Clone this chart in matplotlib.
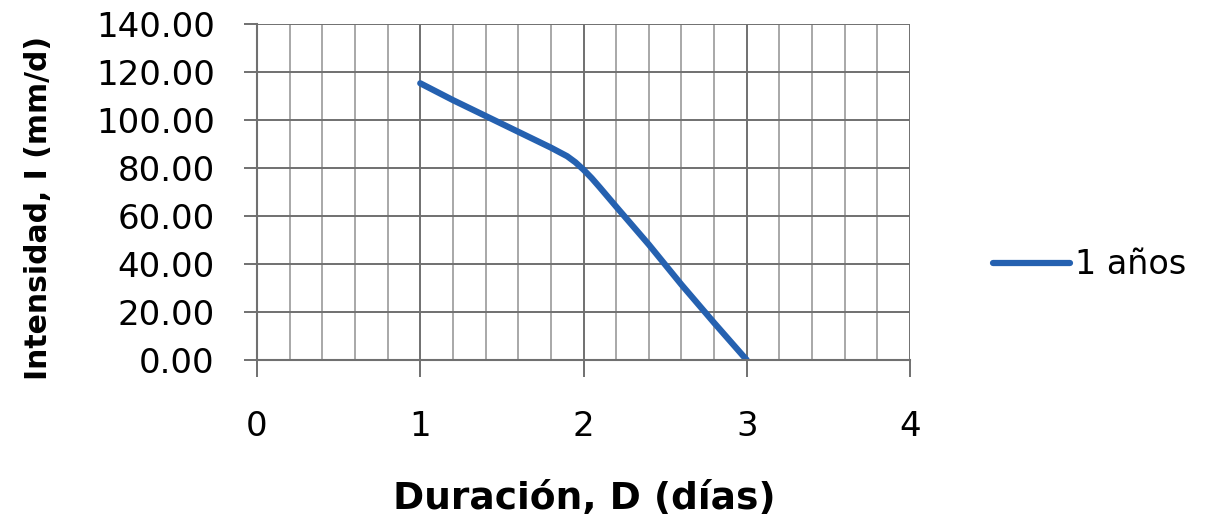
import numpy as np
import matplotlib
matplotlib.use("Agg")
import matplotlib.pyplot as plt
from matplotlib.ticker import MultipleLocator, FormatStrFormatter

# valores
duracion = [1.0, 1.2, 1.4, 1.6, 1.8, 1.9, 1.95, 2.0, 2.05, 2.1, 2.2, 2.4, 2.6, 2.8, 3.0]
intensidad = [115.3, 108.3, 101.7, 95.1, 88.5, 84.9, 82.4, 79.3, 75.8, 71.9, 63.9, 48.1, 31.4, 15.5, 0.0]
serie = "1 años"

plt.rcParams['font.family'] = ['DejaVu Sans']

fig = plt.figure(figsize=(12.14, 5.2), dpi=100)
ax = fig.add_axes([257/1214, 1-360/520, (910-257)/1214, (360-24)/520])

ax.plot(duracion, intensidad, color="#2561b0", lw=4.5, solid_capstyle="round",
        solid_joinstyle="round", label=serie)

ax.set_xlim(0, 4)
ax.set_ylim(0, 140)
ax.xaxis.set_major_locator(MultipleLocator(1))
ax.xaxis.set_minor_locator(MultipleLocator(0.2))
ax.yaxis.set_major_locator(MultipleLocator(20))
ax.yaxis.set_major_formatter(FormatStrFormatter("%.2f"))

ax.grid(which="major", color="#707070", lw=1.4)
ax.grid(which="minor", axis="x", color="#999999", lw=1.2)
ax.set_axisbelow(True)
for s in ["top", "right"]:
    ax.spines[s].set_visible(False)
for s in ["left", "bottom"]:
    ax.spines[s].set_color("#707070")
    ax.spines[s].set_linewidth(1.5)

ax.tick_params(axis="y", which="major", length=9.5, width=1.4, color="#707070", labelsize=24.5, pad=21)
ax.tick_params(axis="x", which="major", length=12, width=1.4, color="#707070", labelsize=24.5, pad=24)
ax.tick_params(which="minor", length=0)

ax.set_xlabel("Duración, D (días)", fontsize=27, fontweight="bold")
ax.set_ylabel("Intensidad, I (mm/d)", fontsize=21.5, fontweight="bold")
ax.xaxis.set_label_coords(0.5008, -0.36)
ax.yaxis.set_label_coords(-0.313, 0.454)

fig.legend(loc="center left", bbox_to_anchor=(993/1214, 1-265/520), frameon=False,
           fontsize=24, handlelength=2.3, handletextpad=0.15, borderaxespad=0, borderpad=0)

fig.savefig("out.png", dpi=100)
